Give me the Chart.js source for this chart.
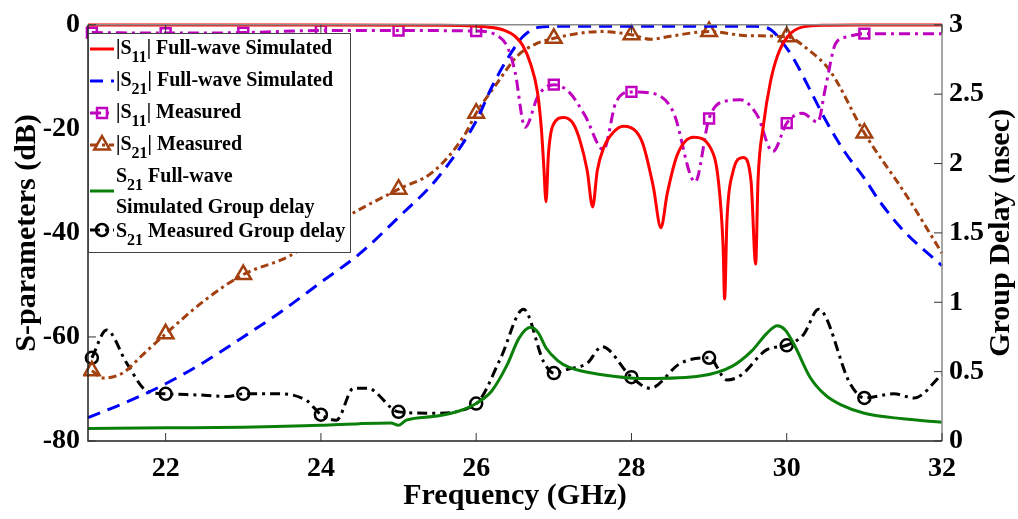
<!DOCTYPE html>
<html>
<head>
<meta charset="utf-8">
<script src="https://cdn.jsdelivr.net/npm/chart.js@4/dist/chart.umd.min.js"></script>
<style>
  html, body { margin: 0; padding: 0; background: #fff; }
</style>
</head>
<body>
<canvas id="chart" width="1018" height="519"></canvas>
<script>
// |S11| full-wave simulated (dB)
const s11SimFreq = [21, 24, 25.5, 26.0, 26.2, 26.35, 26.5, 26.6, 26.7, 26.79, 26.84, 26.87, 26.9, 26.93, 26.99, 27.13, 27.25, 27.34, 27.43, 27.5, 27.56, 27.64, 27.77, 27.9, 28.06, 28.15, 28.28, 28.38, 28.46, 28.59, 28.8, 29.02, 29.12, 29.18, 29.2, 29.23, 29.3, 29.44, 29.54, 29.6, 29.63, 29.7, 29.79, 29.88, 30.01, 30.21, 30.5, 31, 32];
const s11SimDb = [-0.05, -0.05, -0.1, -0.25, -0.5, -1.0, -2.2, -4.0, -7.5, -13, -20, -27, -34, -25, -19.3, -17.8, -19, -22.4, -28, -35, -28, -23.7, -20.6, -19.5, -20.5, -23, -31, -39, -32.5, -25, -21.6, -23.7, -30, -42.5, -52.7, -37.6, -28.7, -25.5, -30, -46, -30, -19.3, -11, -6, -2.3, -0.4, -0.1, -0.05, -0.02];

// |S21| full-wave simulated (dB)
const s21SimFreq = [21, 21.5, 22, 22.5, 23, 23.5, 24, 24.5, 25, 25.5, 26, 26.2, 26.4, 26.6, 26.8, 27, 29.6, 29.8, 30, 30.1, 30.3, 30.5, 30.75, 31, 31.2, 31.5, 32];
const s21SimDb = [-75.5, -72.5, -69, -64.8, -60, -55, -49.5, -44, -37, -29.5, -18.5, -12, -6.6, -2.3, -0.5, -0.3, -0.3, -1, -4.5, -6.8, -12.5, -18.3, -24.5, -29.5, -34, -39.5, -46.3];

// |S11| measured (dB)
const s11MeasFreq = [21.05, 22, 23, 24, 25, 26, 26.25, 26.4, 26.5, 26.63, 26.8, 27, 27.2, 27.4, 27.64, 27.8, 28, 28.28, 28.54, 28.82, 29, 29.23, 29.4, 29.62, 29.82, 30, 30.2, 30.4, 30.5, 30.63, 30.78, 31, 32];
const s11MeasDb = [-1.5, -1.6, -1.5, -1.1, -1.1, -1.2, -1.9, -4.2, -9, -19.7, -13.6, -11.5, -13, -17.4, -24, -14.9, -12.9, -13.2, -16.8, -30.2, -18, -14.6, -14.4, -17.4, -24.4, -18.9, -17, -18.7, -12, -3.6, -2.3, -1.7, -1.7];

// |S21| measured (dB)
const s21MeasFreq = [21.05, 21.2, 21.45, 21.7, 22, 22.5, 23, 23.6, 24.3, 25, 25.45, 25.85, 26, 26.27, 26.53, 26.75, 27, 27.6, 28, 28.25, 28.5, 29, 29.5, 30, 30.27, 30.56, 31, 31.55, 32];
const s21MeasDb = [-66.5, -67.9, -66.9, -63.5, -59.4, -53, -48, -44.4, -37.2, -31.6, -28.2, -21.2, -17, -11.2, -6, -3.8, -2.6, -1.3, -1.9, -2.8, -2.2, -1.3, -2.1, -2.3, -4.7, -8.9, -20.8, -33, -43.9];

// S21 group delay, simulated (nsec)
const gdSimFreq = [21, 22, 23, 24, 24.5, 24.9, 25.0, 25.1, 25.5, 25.8, 26, 26.2, 26.4, 26.55, 26.7, 26.8, 26.9, 27.05, 27.2, 27.6, 28.2, 28.9, 29.3, 29.55, 29.75, 29.88, 29.98, 30.1, 30.3, 30.5, 30.7, 31, 31.5, 32];
const gdSimNs = [0.09, 0.095, 0.1, 0.113, 0.125, 0.13, 0.113, 0.15, 0.18, 0.22, 0.27, 0.36, 0.55, 0.74, 0.82, 0.78, 0.67, 0.58, 0.53, 0.48, 0.45, 0.47, 0.54, 0.65, 0.78, 0.83, 0.8, 0.69, 0.46, 0.33, 0.26, 0.2, 0.16, 0.135];

// S21 group delay, measured (nsec)
const gdMeasFreq = [21.05, 21.24, 21.5, 21.76, 22, 22.5, 22.8, 23, 23.47, 23.82, 24, 24.2, 24.42, 24.6, 25, 25.45, 26, 26.31, 26.61, 26.87, 27, 27.2, 27.43, 27.62, 28, 28.24, 28.63, 29, 29.23, 29.4, 29.75, 30, 30.22, 30.41, 30.82, 31, 31.38, 31.64, 32];
const gdMeasNs = [0.6, 0.8, 0.56, 0.36, 0.34, 0.33, 0.32, 0.34, 0.34, 0.29, 0.19, 0.15, 0.38, 0.38, 0.21, 0.2, 0.27, 0.59, 0.95, 0.57, 0.49, 0.52, 0.56, 0.68, 0.46, 0.38, 0.56, 0.6, 0.44, 0.47, 0.66, 0.69, 0.77, 0.95, 0.41, 0.31, 0.34, 0.31, 0.48];

const xTickValues = [22, 24, 26, 28, 30, 32];

const SERIF = '"Liberation Serif", "Times New Roman", serif';

function pairs(xs, ys) {
  return xs.map((x, i) => ({x: x, y: ys[i]}));
}

// markers only near whole GHz (like the measured traces)
function markerRadius(r) {
  return ctx => {
    const x = ctx.raw ? ctx.raw.x : 0;
    return (Math.abs(x - Math.round(x)) < 0.06 && x < 31.9) ? r : 0;
  };
}

const datasets = [
  {
    label: '|S11| Full-wave Simulated',
    data: pairs(s11SimFreq, s11SimDb),
    yAxisID: 'y',
    borderColor: '#ff0000',
    borderWidth: 3,
    pointRadius: 0
  },
  {
    label: '|S21| Full-wave Simulated',
    data: pairs(s21SimFreq, s21SimDb),
    yAxisID: 'y',
    borderColor: '#0000ff',
    borderWidth: 3,
    borderDash: [13, 8],
    pointRadius: 0
  },
  {
    label: '|S11| Measured',
    data: pairs(s11MeasFreq, s11MeasDb),
    yAxisID: 'y',
    borderColor: '#bf00bf',
    borderWidth: 3,
    borderDash: [11, 5, 3, 5],
    pointStyle: 'rect',
    pointRadius: markerRadius(7),
    pointBorderWidth: 2.5,
    pointBorderColor: '#bf00bf',
    pointBackgroundColor: 'rgba(0,0,0,0)'
  },
  {
    label: '|S21| Measured',
    data: pairs(s21MeasFreq, s21MeasDb),
    yAxisID: 'y',
    borderColor: '#a2400f',
    borderWidth: 3,
    borderDash: [8, 4, 3, 4],
    pointStyle: 'triangle',
    pointRadius: markerRadius(9),
    pointBorderWidth: 2.5,
    pointBorderColor: '#a2400f',
    pointBackgroundColor: 'rgba(0,0,0,0)'
  },
  {
    label: 'S21 Full-wave Simulated Group delay',
    data: pairs(gdSimFreq, gdSimNs),
    yAxisID: 'y2',
    borderColor: '#0a800a',
    borderWidth: 3,
    pointRadius: 0
  },
  {
    label: 'S21 Measured Group delay',
    data: pairs(gdMeasFreq, gdMeasNs),
    yAxisID: 'y2',
    borderColor: '#000000',
    borderWidth: 3,
    borderDash: [10, 5, 3, 5],
    pointStyle: 'circle',
    pointRadius: markerRadius(6),
    pointBorderWidth: 2.5,
    pointBorderColor: '#000000',
    pointBackgroundColor: 'rgba(0,0,0,0)'
  }
];

datasets.forEach(d => {
  d.cubicInterpolationMode = 'monotone';
  d.fill = false;
  d.clip = 5;
});

// legend rows: which dataset, text baseline, sample y, text parts
const legendRows = [
  {ds: 0, y: 54, sy: 49, parts: [['|S'], ['11', 1], ['| Full-wave Simulated']]},
  {ds: 1, y: 86, sy: 81, parts: [['|S'], ['21', 1], ['| Full-wave Simulated']]},
  {ds: 2, y: 118, sy: 113, parts: [['|S'], ['11', 1], ['| Measured']]},
  {ds: 3, y: 150, sy: 145, parts: [['|S'], ['21', 1], ['| Measured']]},
  {ds: 4, y: 182, sy: 191, parts: [['S'], ['21', 1], [' Full-wave']]},
  {ds: -1, y: 213, parts: [['Simulated Group delay']]},
  {ds: 5, y: 237, sy: 230, parts: [['S'], ['21', 1], [' Measured Group delay']]}
];

const framePlugin = {
  id: 'frame',
  afterDraw(chart) {
    const ctx = chart.ctx;
    const a = chart.chartArea;
    const xs = chart.scales.x, ys = chart.scales.y, y2 = chart.scales.y2;
    ctx.save();
    // box
    ctx.lineWidth = 1.5;
    ctx.strokeStyle = '#8a8a8a';
    ctx.beginPath();
    ctx.moveTo(a.left, a.top); ctx.lineTo(a.right, a.top); ctx.lineTo(a.right, a.bottom);
    ctx.stroke();
    ctx.strokeStyle = '#222';
    ctx.beginPath();
    ctx.moveTo(a.left, a.top); ctx.lineTo(a.left, a.bottom); ctx.lineTo(a.right, a.bottom);
    ctx.stroke();
    // inward ticks
    ctx.lineWidth = 1;
    ctx.strokeStyle = '#333';
    ctx.beginPath();
    xs.ticks.forEach(t => {
      const px = xs.getPixelForValue(t.value);
      ctx.moveTo(px, a.bottom); ctx.lineTo(px, a.bottom - 8);
      ctx.moveTo(px, a.top); ctx.lineTo(px, a.top + 8);
    });
    ys.ticks.forEach(t => {
      const py = ys.getPixelForValue(t.value);
      ctx.moveTo(a.left, py); ctx.lineTo(a.left + 8, py);
    });
    y2.ticks.forEach(t => {
      const py = y2.getPixelForValue(t.value);
      ctx.moveTo(a.right, py); ctx.lineTo(a.right - 8, py);
    });
    ctx.stroke();

    // right axis title, reading bottom to top
    ctx.fillStyle = '#000';
    ctx.font = 'bold 30px ' + SERIF;
    ctx.textAlign = 'center';
    ctx.textBaseline = 'middle';
    ctx.translate(1001, (a.top + a.bottom) / 2);
    ctx.rotate(-Math.PI / 2);
    ctx.fillText('Group Delay (nsec)', 0, 0);
    ctx.restore();

    // legend
    ctx.save();
    const lx = a.left, ly = 33, lw = 262, lh = 219;
    ctx.fillStyle = '#fff';
    ctx.fillRect(lx, ly, lw, lh);
    ctx.strokeStyle = '#444';
    ctx.lineWidth = 1;
    ctx.strokeRect(lx + 0.5, ly + 0.5, lw, lh);
    legendRows.forEach(row => {
      if (row.ds >= 0) {
        const d = datasets[row.ds];
        ctx.save();
        ctx.strokeStyle = d.borderColor;
        ctx.lineWidth = d.borderWidth;
        ctx.setLineDash(d.borderDash || []);
        ctx.beginPath();
        ctx.moveTo(90, row.sy); ctx.lineTo(114, row.sy);
        ctx.stroke();
        ctx.setLineDash([]);
        if (d.pointStyle) {
          ctx.strokeStyle = d.pointBorderColor;
          ctx.fillStyle = d.pointBackgroundColor;
          ctx.lineWidth = d.pointBorderWidth;
          const r = {rect: 7, triangle: 9, circle: 6}[d.pointStyle];
          Chart.helpers.drawPoint(ctx, {pointStyle: d.pointStyle, radius: r, borderWidth: d.pointBorderWidth, rotation: 0}, 102, row.sy);
        }
        ctx.restore();
      }
      let x = 116;
      ctx.fillStyle = '#000';
      ctx.textAlign = 'left';
      ctx.textBaseline = 'alphabetic';
      row.parts.forEach(p => {
        const sub = p[1] === 1;
        ctx.font = 'bold ' + (sub ? 16 : 20) + 'px ' + SERIF;
        ctx.fillText(p[0], x, sub ? row.y + 8 : row.y);
        x += ctx.measureText(p[0]).width;
      });
    });
    ctx.restore();
  }
};

const tickFont = {family: SERIF, size: 28, weight: 'bold'};
const titleFont = {family: SERIF, size: 30, weight: 'bold'};

new Chart(document.getElementById('chart').getContext('2d'), {
  type: 'line',
  data: {datasets: datasets},
  options: {
    responsive: false,
    animation: false,
    devicePixelRatio: 1,
    layout: {padding: {top: 18, right: 0, left: 0, bottom: 0}},
    plugins: {
      legend: {display: false},
      tooltip: {enabled: false}
    },
    scales: {
      x: {
        type: 'linear',
        position: 'bottom',
        min: 21,
        max: 32,
        afterBuildTicks: s => { s.ticks = xTickValues.map(v => ({value: v})); },
        afterFit: s => { s.height = 78; },
        grid: {display: false, drawTicks: false},
        border: {display: false},
        ticks: {color: '#000', font: tickFont, padding: 11, maxRotation: 0},
        title: {display: true, text: 'Frequency (GHz)', color: '#000', font: titleFont, padding: {top: 0, bottom: 5}}
      },
      y: {
        position: 'left',
        min: -80,
        max: 0,
        afterFit: s => { s.width = 88; },
        grid: {display: false, drawTicks: false},
        border: {display: false},
        ticks: {stepSize: 20, color: '#000', font: tickFont, padding: 8},
        title: {display: true, text: 'S-parameters (dB)', color: '#000', font: titleFont, padding: {top: 9, bottom: 0}}
      },
      y2: {
        position: 'right',
        min: 0,
        max: 3,
        afterFit: s => { s.width = 76; },
        grid: {display: false, drawTicks: false},
        border: {display: false},
        ticks: {stepSize: 0.5, color: '#000', font: tickFont, padding: 7, callback: v => String(v)}
      }
    }
  },
  plugins: [framePlugin]
});
</script>
</body>
</html>
